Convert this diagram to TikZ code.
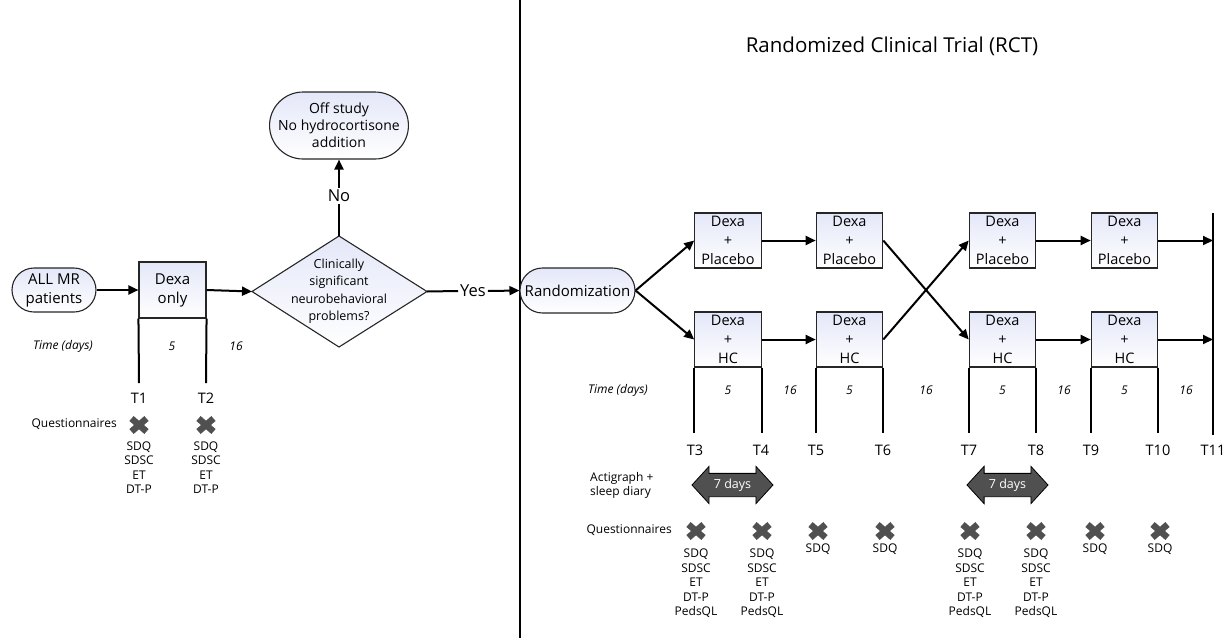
\documentclass[tikz,border=0pt]{standalone}
\usepackage{fontspec}
\setmainfont{Open Sans}
\usetikzlibrary{arrows.meta,shapes.geometric,shapes.misc,shapes.arrows}
\definecolor{lav}{RGB}{228,231,248}
\definecolor{xg}{RGB}{80,80,80}
\begin{document}
\begin{tikzpicture}[x=1pt,y=-1pt,
 every node/.style={font=\fontsize{13}{17}\selectfont, text=black},
 stad/.style={rounded rectangle, draw=black!85, line width=1.1pt, top color=lav, bottom color=white, align=center, inner sep=0pt},
 bx/.style={rectangle, draw=black!85, line width=1.1pt, top color=lav, bottom color=white, align=center, inner sep=0pt, minimum width=66.5pt, minimum height=55pt, font=\fontsize{14.5}{19}\selectfont},
 ar/.style={line width=2pt, -{Triangle[length=10pt,width=9pt]}},
 ln/.style={line width=2pt},
 tl/.style={font=\fontsize{14.5}{17}\selectfont},
 big/.style={font=\fontsize{16.5}{18}\selectfont},
 sm/.style={font=\fontsize{12}{14.5}\selectfont, align=center},
 itl/.style={font=\fontsize{12}{14}\selectfont\itshape},
 darr/.style={double arrow, fill=xg, draw=black, line width=0.8pt, text=white, minimum height=81pt, double arrow head extend=7pt, double arrow tip angle=95, inner xsep=2pt, inner ysep=5pt, font=\fontsize{12.5}{14}\selectfont},
 xmark/.pic={\draw[line width=6.5pt, xg] (-7.5,-6.5)--(7.5,6.5) (-7.5,6.5)--(7.5,-6.5);}
]
\useasboundingbox (0,0) rectangle (1224,638);

% divider
\coordinate (divT) at (520,0);
\coordinate (divB) at (520,638);
\draw[line width=1.6pt] (divT) -- (divB);

% title
\node[font=\fontsize{20.5}{24}\selectfont] (title) at (892,46) {Randomized Clinical Trial (RCT)};

% ---------- left part ----------
\node[stad, minimum width=84pt, minimum height=44pt, font=\fontsize{15}{19}\selectfont] (all) at (54,290) {ALL MR\\patients};
\node[bx, minimum width=67pt, minimum height=56pt, font=\fontsize{15}{19}\selectfont] (dexa) at (172.5,290) {Dexa\\only};

\coordinate (dT) at (339,236);
\coordinate (dB) at (339,347);
\coordinate (dL) at (252,291.5);
\coordinate (dR) at (427,291.5);
\path[draw=black!85, line width=1.1pt, top color=lav, bottom color=white] (dT) -- (dR) -- (dB) -- (dL) -- cycle;
\node[align=center, font=\fontsize{12.5}{17.5}\selectfont] (dq) at (339,291) {Clinically\\significant\\neurobehavioral\\problems?};

\node[stad, minimum width=136pt, minimum height=67pt, font=\fontsize{14}{17}\selectfont] (off) at (339,125.5) {Off study\\No hydrocortisone\\addition};

\node[big, inner sep=2pt] (no) at (339,196) {No};
\node[big, inner sep=2pt] (yes) at (473,291) {Yes};

\node[stad, minimum width=115pt, minimum height=45pt, font=\fontsize{15}{19}\selectfont] (rand) at (577.5,290.5) {Randomization};

\draw[ar] (all.east) -- (dexa.west);
\draw[ar] (dexa.east |- all.east) -- (dL);
\draw[ln] (dT) -- (no.south);
\draw[ar] (no.north) -- (off.south);
\draw[ln] (dR) -- (yes.west);
\draw[ar] (yes.east) -- (rand.west);

% left timeline
\coordinate (l1) at (139,383);
\coordinate (l2) at (206,383);
\draw[ln] (dexa.south west) -- (l1);
\draw[ln] (dexa.south east) -- (l2);
\node[tl] (t1) at (139,398) {T1};
\node[tl] (t2) at (206,398) {T2};
\node[itl] (time1) at (63,346) {Time (days)};
\node[itl] (f1) at (172,346) {5};
\node[itl] (s1) at (236,346) {16};

\node[sm, anchor=east, inner sep=0pt] (q1) at (117,424) {Questionnaires};
\pic at (139,425) {xmark};
\pic at (206,425) {xmark};
\node[sm] (i1) at (139,467.5) {SDQ\\SDSC\\ET\\DT-P};
\node[sm] (i2) at (206,467.5) {SDQ\\SDSC\\ET\\DT-P};

% ---------- RCT ----------
\node[bx] (p1) at (728,240.5) {Dexa\\+\\Placebo};
\node[bx] (h1) at (728,339.5) {Dexa\\+\\HC};
\node[bx] (p2) at (849.5,240.5) {Dexa\\+\\Placebo};
\node[bx] (h2) at (849.5,339.5) {Dexa\\+\\HC};
\node[bx] (p3) at (1002.5,240.5) {Dexa\\+\\Placebo};
\node[bx] (h3) at (1002.5,339.5) {Dexa\\+\\HC};
\node[bx] (p4) at (1124.5,240.5) {Dexa\\+\\Placebo};
\node[bx] (h4) at (1124.5,339.5) {Dexa\\+\\HC};

\coordinate (e11T) at (1213,213);
\coordinate (e11B) at (1213,435);
\coordinate (e11p) at (1213,240.5);
\coordinate (e11h) at (1213,339.5);
\draw[ln] (e11T) -- (e11B);

\draw[ar] (rand.east) -- (p1.west);
\draw[ar] (rand.east) -- (h1.west);
\draw[ar] (p1.east) -- (p2.west);
\draw[ar] (h1.east) -- (h2.west);
\draw[ar] (p2.east) -- (h3.west);
\draw[ar] (h2.east) -- (p3.west);
\draw[ar] (p3.east) -- (p4.west);
\draw[ar] (h3.east) -- (h4.west);
\draw[ar] (p4.east) -- (e11p);
\draw[ar] (h4.east) -- (e11h);

% right timeline
\foreach \b/\a/\c in {h1/3/4, h2/5/6, h3/7/8, h4/9/10}{
  \coordinate (v\a) at (\b.south west |- 0,433);
  \coordinate (v\c) at (\b.south east |- 0,433);
  \draw[ln] (\b.south west) -- (v\a);
  \draw[ln] (\b.south east) -- (v\c);
}
\foreach \n/\x in {3/695,4/761,5/816,6/883,7/969,8/1036,9/1091,10/1158,11/1213}{
  \node[tl] (t\n) at (\x,450) {T\n};
}
\node[itl] (time2) at (618,390) {Time (days)};
\foreach \x [count=\i] in {728,849.5,1002.5,1124.5}{\node[itl] (f\i r) at (\x,390) {5};}
\foreach \x [count=\i] in {790,926,1064,1186}{\node[itl] (s\i r) at (\x,390) {16};}

\node[sm, anchor=west, align=left, inner sep=0pt] (act) at (590,485.5) {Actigraph +\\sleep diary};
\node[darr] (d1) at (732.5,485) {7 days};
\node[darr] (d2) at (1007.5,485) {7 days};

\node[sm, anchor=east, inner sep=0pt] (q2) at (672,530) {Questionnaires};
\foreach \x in {696,762,818,885,970,1036,1095,1160}{\pic at (\x,531) {xmark};}
\node[sm] (r3) at (696,583.5) {SDQ\\SDSC\\ET\\DT-P\\PedsQL};
\node[sm] (r4) at (762,583.5) {SDQ\\SDSC\\ET\\DT-P\\PedsQL};
\node[sm] (r5) at (818,549) {SDQ};
\node[sm] (r6) at (885,549) {SDQ};
\node[sm] (r7) at (970,583.5) {SDQ\\SDSC\\ET\\DT-P\\PedsQL};
\node[sm] (r8) at (1036,583.5) {SDQ\\SDSC\\ET\\DT-P\\PedsQL};
\node[sm] (r9) at (1095,549) {SDQ};
\node[sm] (r10) at (1160,549) {SDQ};
\end{tikzpicture}
\end{document}
